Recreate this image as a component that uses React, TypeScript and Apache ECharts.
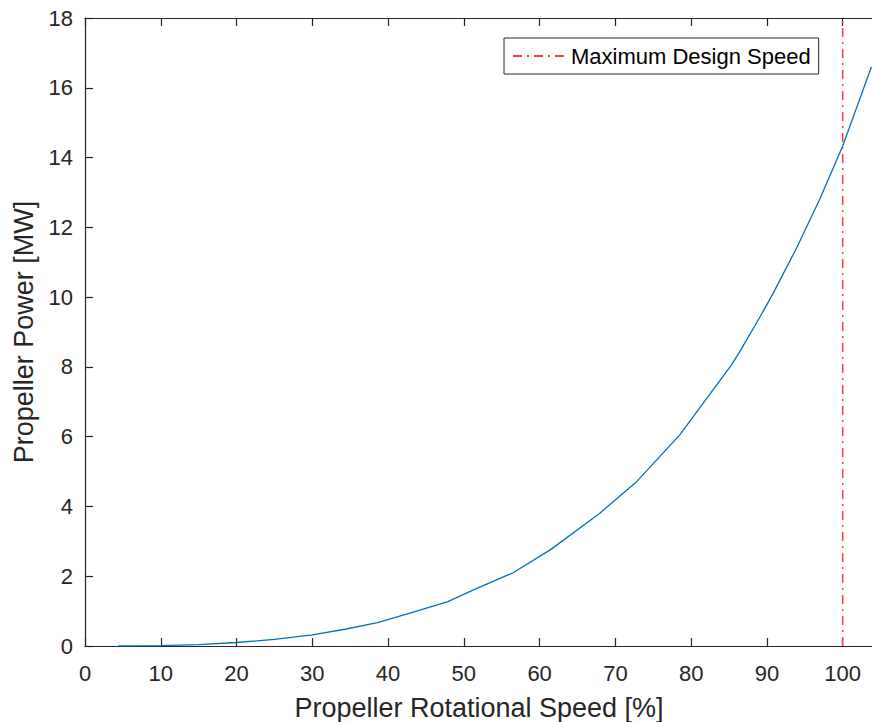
import React, { useEffect, useRef } from "react";
import * as echarts from "echarts";

const speedPct = [4.4, 10, 15, 20, 25, 30, 34.3, 38.6, 43, 47.9, 51.2, 56.5, 61.5, 67.9, 72.8, 78.5, 85.3, 86.4, 89, 90.8, 93.9, 97, 100, 103.8];
const powerMW = [0, 0.01, 0.04, 0.1, 0.19, 0.32, 0.48, 0.67, 0.95, 1.27, 1.6, 2.1, 2.77, 3.8, 4.71, 6.05, 8.05, 8.43, 9.4, 10.1, 11.4, 12.82, 14.33, 16.6];
const designSpeed = [100, 100];
const designSpeedY = [0, 18];

const FONT = "'Liberation Sans', Arial, Helvetica, sans-serif";
const AX = "#262626";

export default function App() {
  const ref = useRef<HTMLDivElement>(null);
  useEffect(() => {
    if (!ref.current) return;
    const chart = echarts.init(ref.current, undefined, { renderer: "svg" });
    chart.setOption({
      animation: false,
      backgroundColor: "#ffffff",
      textStyle: { fontFamily: FONT },
      grid: { left: 85, top: 18, width: 788, height: 628, containLabel: false, outerBoundsMode: "none" },
      legend: {
        show: true,
        data: ["Maximum Design Speed"],
        left: 504,
        top: 38,
        itemWidth: 53,
        itemHeight: 14,
        itemGap: 8,
        padding: [7, 8, 7, 8],
        borderColor: AX,
        borderWidth: 1,
        backgroundColor: "#ffffff",
        itemStyle: { opacity: 0 },
        textStyle: { fontFamily: FONT, fontSize: 22, color: "#000000" },
      },
      xAxis: [
        {
          type: "value",
          min: 0,
          max: 104,
          interval: 10,
          position: "bottom",
          name: "Propeller Rotational Speed [%]",
          nameLocation: "middle",
          nameGap: 48,
          nameTextStyle: { fontFamily: FONT, fontSize: 27, color: AX },
          axisLine: { show: true, onZero: false, lineStyle: { color: AX, width: 1.2 } },
          axisTick: { show: true, inside: true, length: 8, lineStyle: { color: AX, width: 1.2 } },
          axisLabel: {
            margin: 16,
            fontFamily: FONT,
            fontSize: 22,
            color: AX,
            showMaxLabel: false,
            formatter: (v: number) => (v % 10 === 0 ? String(v) : ""),
          },
          splitLine: { show: false },
        },
        {
          type: "value",
          min: 0,
          max: 104,
          interval: 10,
          position: "top",
          axisLine: { show: true, onZero: false, lineStyle: { color: AX, width: 1.2 } },
          axisTick: { show: true, inside: true, length: 8, lineStyle: { color: AX, width: 1.2 } },
          axisLabel: { show: false },
          splitLine: { show: false },
        },
      ],
      yAxis: {
        type: "value",
        min: 0,
        max: 18,
        interval: 2,
        name: "Propeller Power [MW]",
        nameLocation: "middle",
        nameGap: 47,
        nameTextStyle: { fontFamily: FONT, fontSize: 27, color: AX },
        axisLine: { show: true, onZero: false, lineStyle: { color: AX, width: 1.2 } },
        axisTick: { show: true, inside: true, length: 8, lineStyle: { color: AX, width: 1.2 } },
        axisLabel: { margin: 12, fontFamily: FONT, fontSize: 22, color: AX },
        splitLine: { show: false },
      },
      series: [
        {
          name: "Propeller Power",
          type: "line",
          data: speedPct.map((x, i) => [x, powerMW[i]]),
          showSymbol: false,
          symbol: "none",
          lineStyle: { color: "#0072BD", width: 1.3 },
          itemStyle: { color: "#0072BD" },
          clip: true,
        },
        {
          name: "Maximum Design Speed",
          type: "line",
          data: designSpeed.map((x, i) => [x, designSpeedY[i]]),
          showSymbol: false,
          symbol: "none",
          lineStyle: { color: "#ff3b3b", width: 1.5, type: [9, 5, 2, 5] },
          itemStyle: { color: "#ff3b3b" },
        },
      ],
    });
    return () => chart.dispose();
  }, []);
  return <div ref={ref} style={{ width: 872, height: 722, position: "absolute", left: 0, top: 0 }} />;
}
